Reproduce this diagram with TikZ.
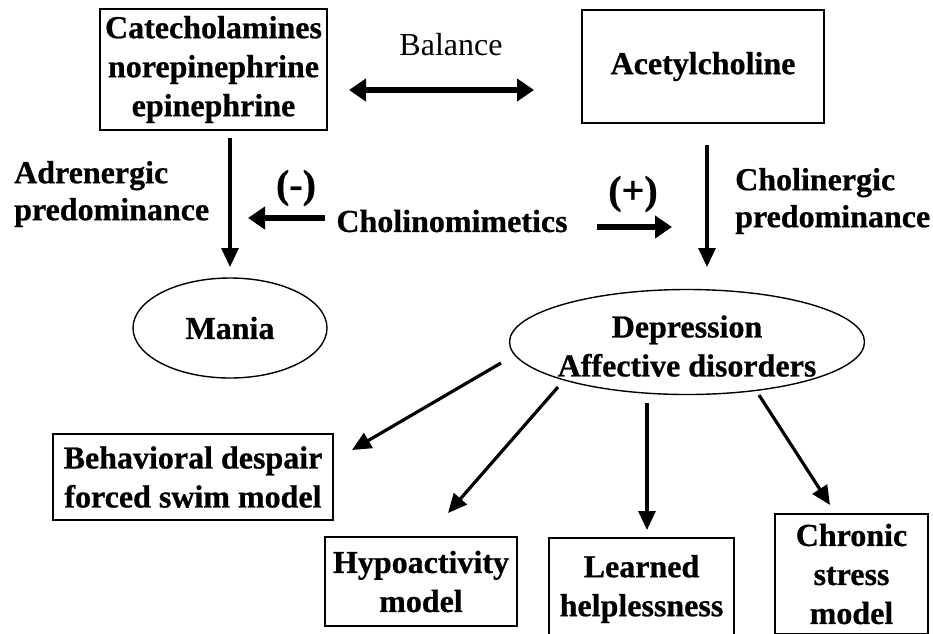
\documentclass[tikz,border=0pt]{standalone}
\usepackage{fontspec}
\setmainfont{Liberation Serif}[BoldFeatures={FakeBold=0.7}]
\usetikzlibrary{arrows.meta,shapes.geometric}
\begin{document}
\begin{tikzpicture}[x=1pt,y=-1pt,
  lbl/.style={font=\bfseries\fontsize{32}{39}\selectfont, align=center, inner sep=0pt},
  side/.style={font=\bfseries\fontsize{32}{37}\selectfont, align=left, inner sep=0pt, anchor=west},
  sign/.style={font=\bfseries\fontsize{40}{42}\selectfont, inner sep=0pt},
  bx/.style={draw, line width=1.4pt, lbl},
  ell/.style={draw, ellipse, line width=1.4pt, lbl},
  thinarr/.style={line width=3.2pt, -{Triangle[length=19pt,width=17pt]}},
  fatarr/.style={line width=6pt, -{Triangle[length=17pt,width=22pt]}},
  fatdbl/.style={line width=6pt, {Triangle[length=17pt,width=22pt]}-{Triangle[length=17pt,width=22pt]}},
]
\clip (0,0) rectangle (933,633);
\fill[white] (0,0) rectangle (933,633);

% top boxes
\node[bx, minimum width=227pt, minimum height=121pt] (cat) at (213.5,69.5)
  {Catecholamines\\norepinephrine\\epinephrine};
\node[bx, minimum width=242pt, minimum height=113pt] (ach) at (703,66.5) {Acetylcholine};
\node[font=\fontsize{32}{36}\selectfont, inner sep=0pt] (bal) at (451,45) {Balance};
\coordinate (balL) at (349,90);
\coordinate (balR) at (534,90);
\draw[fatdbl] (balL) -- (balR);

% side labels
\node[side] (adr) at (14,194) {Adrenergic\\predominance};
\node[side] (chg) at (735,201) {Cholinergic\\predominance};
\node[lbl] (chm) at (452,221) {Cholinomimetics};
\node[sign] (minus) at (296,188) {(-)};
\node[sign] (plus) at (633,194) {(+)};

% ellipses
\node[ell, minimum width=194pt, minimum height=100pt] (mania) at (230,328) {Mania};
\node[ell, minimum width=355pt, minimum height=105pt] (dep) at (687,342) {};
\node[lbl] (deptext) at (687,346) {Depression\\Affective disorders};

% vertical arrows
\coordinate (catOut) at (230,138);
\coordinate (maniaIn) at (230,267);
\draw[thinarr] (catOut) -- (maniaIn);
\coordinate (achOut) at (707,145);
\coordinate (depIn) at (707,267);
\draw[thinarr] (achOut) -- (depIn);

% cholinomimetics arrows
\coordinate (chmL) at (325,218);
\coordinate (chmLend) at (248,218);
\draw[fatarr] (chmL) -- (chmLend);
\coordinate (chmR) at (597,227);
\coordinate (chmRend) at (672,227);
\draw[fatarr] (chmR) -- (chmRend);

% bottom boxes
\node[bx, minimum width=280pt, minimum height=86pt] (behav) at (193,477)
  {Behavioral despair\\forced swim model};
\node[bx, minimum width=192pt, minimum height=89pt] (hypo) at (421,581.5)
  {Hypoactivity\\model};
\node[bx, minimum width=185pt, minimum height=102pt] (learn) at (641.5,589)
  {Learned\\helplessness};
\node[bx, minimum width=153pt, minimum height=120pt] (chron) at (851.5,574)
  {Chronic\\stress\\model};

% arrows from depression
\coordinate (d1) at (501,363);  \coordinate (e1) at (352,450);
\coordinate (d2) at (558,387);  \coordinate (e2) at (448,513);
\coordinate (d3) at (647,403);  \coordinate (e3) at (647,530);
\coordinate (d4) at (759,395);  \coordinate (e4) at (830,505);
\draw[thinarr] (d1) -- (e1);
\draw[thinarr] (d2) -- (e2);
\draw[thinarr] (d3) -- (e3);
\draw[thinarr] (d4) -- (e4);
\end{tikzpicture}
\end{document}
